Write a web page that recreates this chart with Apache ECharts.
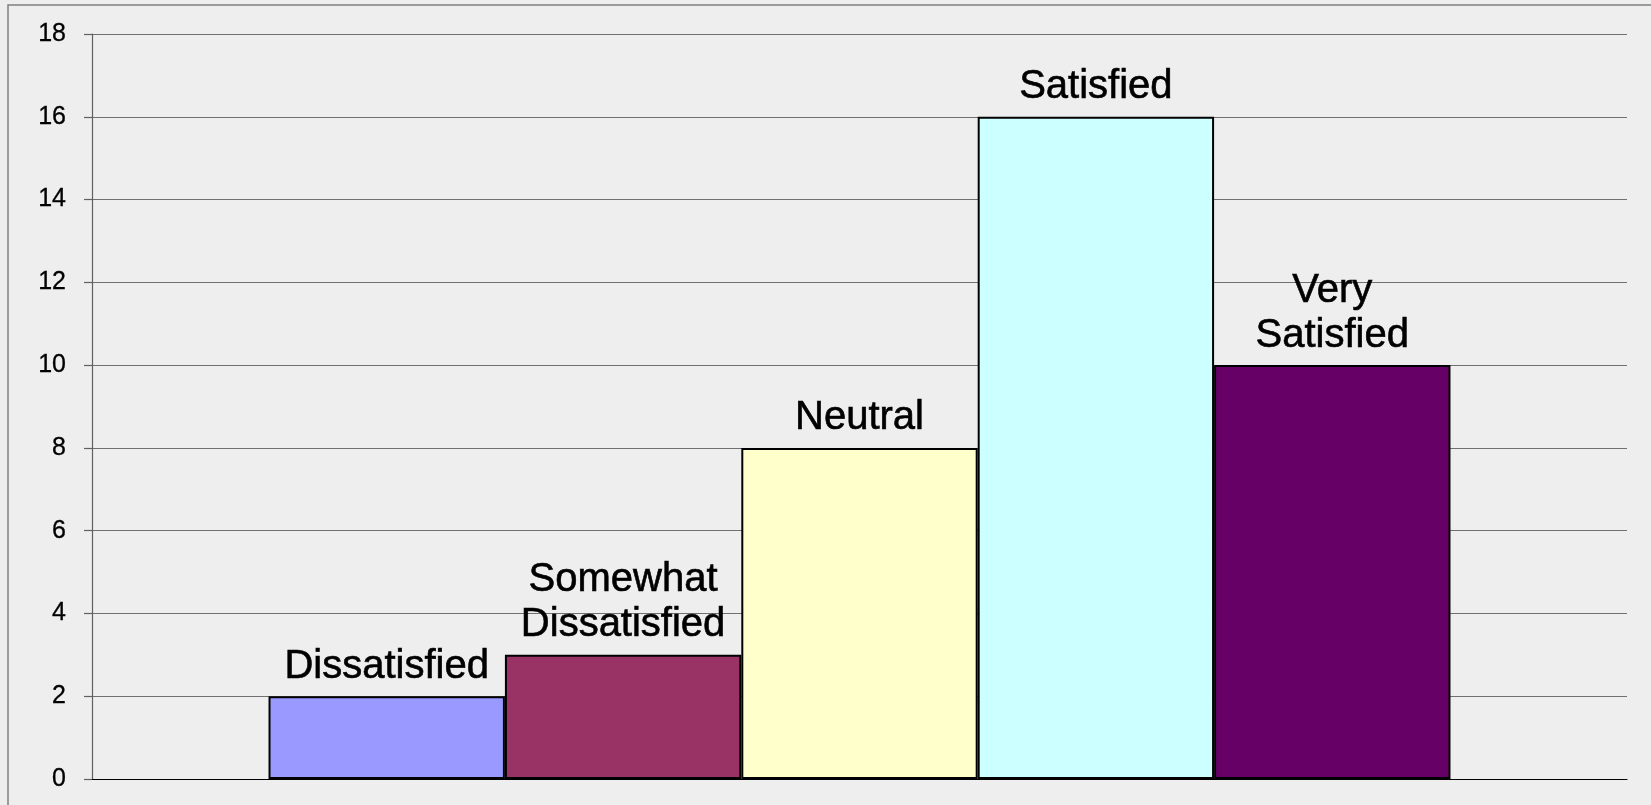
<!DOCTYPE html>
<html>
<head>
<meta charset="utf-8">
<style>
  html, body { margin: 0; padding: 0; background: #eeeeee; }
  #chart { width: 1651px; height: 805px; }
</style>
<script src="https://cdn.jsdelivr.net/npm/echarts@6/dist/echarts.min.js"></script>
</head>
<body>
<div id="chart"></div>
<script>
// Survey responses: one bar per satisfaction level
const levels = ['Dissatisfied', 'Somewhat Dissatisfied', 'Neutral', 'Satisfied', 'Very Satisfied'];
const levelLabels = ['Dissatisfied', 'Somewhat\nDissatisfied', 'Neutral', 'Satisfied', 'Very\nSatisfied'];
const counts = [2, 3, 8, 16, 10];
const colors = ['#9999ff', '#993366', '#ffffcc', '#ccffff', '#660066'];
const yTicks = { min: 0, max: 18, interval: 2 };

const chart = echarts.init(document.getElementById('chart'));

const series = levels.map((name, i) => ({
  name: name,
  type: 'bar',
  data: [counts[i]],
  barGap: '0%',
  barCategoryGap: '23%',
  itemStyle: { color: colors[i], borderColor: '#000000', borderWidth: 2 },
  label: {
    show: true,
    position: 'top',
    distance: 7,
    formatter: () => levelLabels[i],
    color: '#000000',
    textBorderColor: '#000000',
    textBorderWidth: 0.6,
    fontFamily: '"Liberation Sans", Arial, sans-serif',
    fontSize: 40,
    lineHeight: 45,
    align: 'center'
  },
  emphasis: { disabled: true },
  animation: false
}));

chart.setOption({
  backgroundColor: '#eeeeee',
  animation: false,
  graphic: [{
    type: 'rect',
    shape: { x: 8, y: 5, width: 1700, height: 900 },
    style: { fill: null, stroke: '#808080', lineWidth: 1.5 },
    silent: true
  }],
  grid: { left: 92, right: 24, top: 34, bottom: 26 },
  xAxis: {
    type: 'category',
    data: [''],
    axisLine: { show: true, lineStyle: { color: '#000000', width: 1.2 } },
    axisTick: { show: false },
    axisLabel: { show: false },
    splitLine: { show: false }
  },
  yAxis: {
    type: 'value',
    min: yTicks.min,
    max: yTicks.max,
    interval: yTicks.interval,
    axisLine: { show: true, lineStyle: { color: '#606060', width: 1.2 } },
    axisTick: { show: true, length: 8, lineStyle: { color: '#606060', width: 1.2 } },
    axisLabel: {
      margin: 26,
      color: '#000000',
      textBorderColor: '#000000',
      textBorderWidth: 0.3,
      fontFamily: '"Liberation Sans", Arial, sans-serif',
      fontSize: 25
    },
    splitLine: { show: true, lineStyle: { color: '#707070', width: 1.2 } }
  },
  series: series
});
</script>
</body>
</html>
